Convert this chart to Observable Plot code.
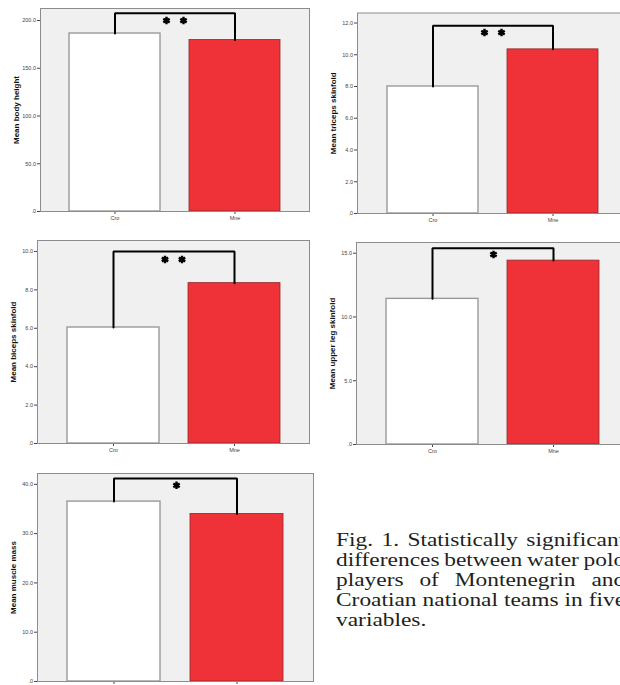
<!DOCTYPE html>
<html>
<head>
<meta charset="utf-8">
<script src="https://cdn.jsdelivr.net/npm/d3@7"></script>
<script src="https://cdn.jsdelivr.net/npm/@observablehq/plot@0.6"></script>
<style>
  html, body { margin: 0; padding: 0; background: #fff; }
  body { width: 620px; height: 685px; overflow: hidden; position: relative; }
  .panel { position: absolute; }
  .panel svg { max-width: none !important; }
  #caption { position: absolute; left: 336px; top: 530px; font-family: "Liberation Serif", "Times New Roman", serif;
             font-size: 19.5px; line-height: 20px; color: #231f20; transform: scaleX(1.2); transform-origin: 0 0; }
  #caption div { width: 241px; white-space: nowrap; display: flex; justify-content: space-between; }
  #caption div.last { justify-content: flex-start; }
</style>
</head>
<body>
<div id="root"></div>
<div id="caption"></div>
<script>
const groups = ["Cro", "Mne"];
const yLabels = ["Mean body height", "Mean triceps skinfold", "Mean biceps skinfold", "Mean upper leg skinfold", "Mean muscle mass"];
const croMeans = [186.4, 8.0, 6.04, 11.42, 36.5];
const mneMeans = [179.6, 10.34, 8.35, 14.42, 34.0];
const axisMax = [212.6, 12.63, 10.57, 15.84, 42.2];
const yTicks = [[0, 50, 100, 150, 200], [0, 2, 4, 6, 8, 10, 12], [0, 2, 4, 6, 8, 10], [0, 5, 10, 15], [0, 10, 20, 30, 40]];
const bracketTops = [207.6, 11.82, 10.0, 15.38, 41.2];
const starLevels = [200, 11.4, 9.58, 14.9, 39.8];
const starCounts = [2, 2, 2, 1, 1];
const showXLabels = [true, true, true, true, false];
const captionLines = ["Fig. 1. Statistically significant", "differences between water polo", "players of Montenegrin and", "Croatian national teams in five", "variables."];

// layout: left, top, width, marginLeft, marginRight, marginTop, plotHeight
const layout = [
  {left: 0,   top: 0,   width: 312, ml: 40, mr: 3, mt: 8,    ph: 203},
  {left: 310, top: 0,   width: 320, ml: 47, mr: 2, mt: 12.5, ph: 200.5},
  {left: 0,   top: 232, width: 312, ml: 37, mr: 3, mt: 8,    ph: 203},
  {left: 310, top: 234, width: 320, ml: 46, mr: 2, mt: 8,    ph: 202},
  {left: 0,   top: 465, width: 316, ml: 37, mr: 3, mt: 8,    ph: 208}
];

const fmt = d => d === 0 ? ".0" : d.toFixed(1);
const root = document.getElementById("root");

yLabels.forEach((label, i) => {
  const L = layout[i];
  const data = [{group: groups[0], value: croMeans[i]}, {group: groups[1], value: mneMeans[i]}];
  const bracket = [
    {group: groups[0], value: croMeans[i]},
    {group: groups[0], value: bracketTops[i]},
    {group: groups[1], value: bracketTops[i]},
    {group: groups[1], value: mneMeans[i]}
  ];
  const stars = starCounts[i] === 2 ? [{v: starLevels[i], k: -1}, {v: starLevels[i], k: 1}] : [{v: starLevels[i], k: 0}];
  const marks = [
    Plot.frame({fill: "#f0f0f0", stroke: "none"}),
    Plot.barY(data.filter(d => d.group === "Cro"), {x: "group", y: "value", fill: "#ffffff", stroke: "#9a9a9a", strokeWidth: 1.4}),
    Plot.barY(data.filter(d => d.group === "Mne"), {x: "group", y: "value", fill: "#ee3237", stroke: "#8e2a2a", strokeWidth: 0.8}),
    Plot.frame({stroke: "#8c8c8c", strokeWidth: 1}),
    Plot.line(bracket, {x: "group", y: "value", stroke: "#000", strokeWidth: 2, strokeLinejoin: "miter"}),
    Plot.text([label], {frameAnchor: "left", text: d => d, rotate: -90, dx: -24, textAnchor: "middle", fontSize: 8, fontWeight: "bold", fill: "#111"})
  ];
  const starOpts = {y: "v", symbol: "asterisk", r: 3.5, stroke: "#000", strokeWidth: 2.4};
  if (starCounts[i] === 2) {
    marks.push(Plot.dot(stars.filter(s => s.k < 0), {...starOpts, dx: -8.5}));
    marks.push(Plot.dot(stars.filter(s => s.k > 0), {...starOpts, dx: 8.5}));
  } else {
    marks.push(Plot.dot(stars, {...starOpts, dx: 1}));
  }
  const chart = Plot.plot({
    width: L.width,
    height: L.mt + L.ph + 22,
    marginLeft: L.ml,
    marginRight: L.mr,
    marginTop: L.mt,
    marginBottom: 22,
    style: {fontFamily: "'Liberation Sans', Arial, sans-serif", fontSize: "5.5px", color: "#444", background: "transparent", maxWidth: "none", overflow: "visible"},
    x: {domain: groups, padding: 0.24, tickSize: 3, tickPadding: 1.5, label: null, tickFormat: showXLabels[i] ? d => d : () => ""},
    y: {domain: [0, axisMax[i]], ticks: yTicks[i], tickFormat: fmt, tickSize: 3, tickPadding: 1.5, label: null},
    marks
  });
  const div = document.createElement("div");
  div.className = "panel";
  div.style.left = L.left + "px";
  div.style.top = L.top + "px";
  div.appendChild(chart);
  root.appendChild(div);
});

const cap = document.getElementById("caption");
captionLines.forEach((line, j) => {
  const d = document.createElement("div");
  const last = j === captionLines.length - 1;
  if (last) d.className = "last";
  line.split(" ").forEach(w => {
    const s = document.createElement("span");
    s.textContent = w;
    if (last) s.style.marginRight = "5px";
    d.appendChild(s);
  });
  cap.appendChild(d);
});
</script>
</body>
</html>
